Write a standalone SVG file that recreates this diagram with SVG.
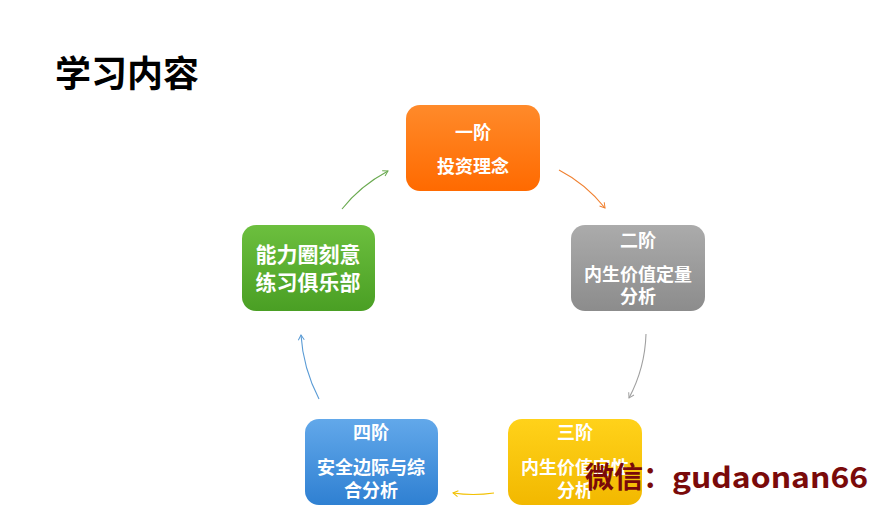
<svg xmlns="http://www.w3.org/2000/svg" width="892" height="517" viewBox="0 0 892 517">
<defs>
<linearGradient id="gOrange" x1="0" y1="0" x2="0" y2="1"><stop offset="0" stop-color="#ff8a2a"/><stop offset="1" stop-color="#ff6a00"/></linearGradient>
<linearGradient id="gGray" x1="0" y1="0" x2="0" y2="1"><stop offset="0" stop-color="#ababab"/><stop offset="1" stop-color="#8c8c8c"/></linearGradient>
<linearGradient id="gYellow" x1="0" y1="0" x2="0" y2="1"><stop offset="0" stop-color="#ffd21a"/><stop offset="1" stop-color="#f2b800"/></linearGradient>
<linearGradient id="gBlue" x1="0" y1="0" x2="0" y2="1"><stop offset="0" stop-color="#62a8ea"/><stop offset="1" stop-color="#2f80d2"/></linearGradient>
<linearGradient id="gGreen" x1="0" y1="0" x2="0" y2="1"><stop offset="0" stop-color="#6cbf3e"/><stop offset="1" stop-color="#4a9f24"/></linearGradient>
<marker id="mGreen" markerWidth="8" markerHeight="8" refX="6" refY="4" orient="auto" markerUnits="userSpaceOnUse"><path d="M1,1 L6,4 L1,7" fill="none" stroke="#6aaa50" stroke-width="1"/></marker>
<marker id="mOrange" markerWidth="8" markerHeight="8" refX="6" refY="4" orient="auto" markerUnits="userSpaceOnUse"><path d="M1,1 L6,4 L1,7" fill="none" stroke="#f08030" stroke-width="1"/></marker>
<marker id="mGray" markerWidth="8" markerHeight="8" refX="6" refY="4" orient="auto" markerUnits="userSpaceOnUse"><path d="M1,1 L6,4 L1,7" fill="none" stroke="#a0a0a0" stroke-width="1"/></marker>
<marker id="mYellow" markerWidth="8" markerHeight="8" refX="6" refY="4" orient="auto" markerUnits="userSpaceOnUse"><path d="M1,1 L6,4 L1,7" fill="none" stroke="#f2c000" stroke-width="1"/></marker>
<marker id="mBlue" markerWidth="8" markerHeight="8" refX="6" refY="4" orient="auto" markerUnits="userSpaceOnUse"><path d="M1,1 L6,4 L1,7" fill="none" stroke="#5a9bd5" stroke-width="1"/></marker>
</defs>
<style>
.t{font-family:"Noto Sans CJK SC","Noto Sans",sans-serif;font-weight:bold;fill:#ffffff;text-anchor:middle;font-size:18px}
.big{font-size:21px}
.title{font-family:"Noto Sans CJK SC",sans-serif;font-weight:bold;font-size:36px;fill:#000000}
.c{fill:none;stroke-width:1.1}
.wm{font-family:"Noto Sans CJK SC","DejaVu Sans",sans-serif;font-weight:bold;fill:#7a0a0a}
</style>
<rect width="892" height="517" fill="#ffffff"/>
<text class="title" x="55" y="87">学习内容</text>
<g id="connectors">
<path class="c" d="M342,209 Q360,186 388,171" stroke="#6aaa50" marker-end="url(#mGreen)"/>
<path class="c" d="M559,170 Q586,184 605,208" stroke="#f08030" marker-end="url(#mOrange)"/>
<path class="c" d="M646,334 Q645,368 629,398" stroke="#a0a0a0" marker-end="url(#mGray)"/>
<path class="c" d="M494,493 Q473,496 453,493" stroke="#f2c000" marker-end="url(#mYellow)"/>
<path class="c" d="M319,399 Q303,368 301,335" stroke="#5a9bd5" marker-end="url(#mBlue)"/>
</g>
<g id="node1">
<rect x="406" y="105" width="134" height="86" rx="14" fill="url(#gOrange)"/>
<text class="t" x="473" y="139">一阶</text>
<text class="t" x="473" y="173">投资理念</text>
</g>
<g id="node2">
<rect x="571" y="225" width="134" height="86" rx="14" fill="url(#gGray)"/>
<text class="t" x="638" y="247">二阶</text>
<text class="t" x="638" y="281">内生价值定量</text>
<text class="t" x="638" y="303">分析</text>
</g>
<g id="node3">
<rect x="508" y="419" width="134" height="86" rx="14" fill="url(#gYellow)"/>
<text class="t" x="575" y="439">三阶</text>
<text class="t" x="575" y="474">内生价值定性</text>
<text class="t" x="575" y="497">分析</text>
</g>
<g id="node4">
<rect x="305" y="419" width="133" height="86" rx="14" fill="url(#gBlue)"/>
<text class="t" x="371" y="439">四阶</text>
<text class="t" x="371" y="474">安全边际与综</text>
<text class="t" x="371" y="497">合分析</text>
</g>
<g id="node5">
<rect x="242" y="225" width="133" height="86" rx="14" fill="url(#gGreen)"/>
<text class="t big" x="308" y="262">能力圈刻意</text>
<text class="t big" x="308" y="290">练习俱乐部</text>
</g>
<text class="wm" x="585" y="488" font-size="29">微信：</text>
<text class="wm" x="672" y="488" font-size="29" textLength="196" lengthAdjust="spacingAndGlyphs">gudaonan66</text>
</svg>
